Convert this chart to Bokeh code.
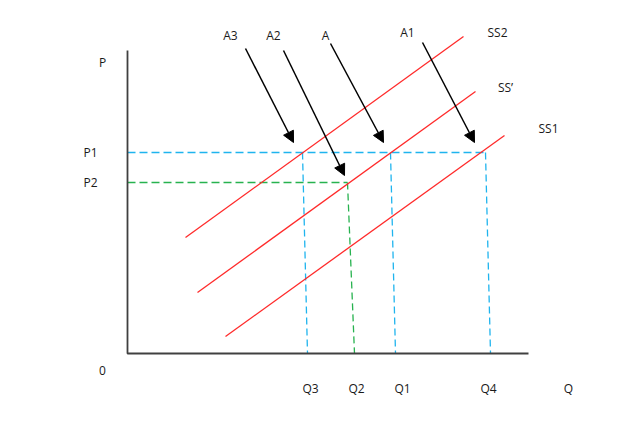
from bokeh.plotting import figure
from bokeh.models import Range1d, Arrow, NormalHead, ColumnDataSource
from bokeh.core.properties import value
from bokeh.embed import file_html
from bokeh.resources import INLINE

# Diagram coordinates: origin at the axes corner, Q to the right, P upward
axis_q_end = 401
axis_p_end = 303

# price levels
p_levels = [201, 171]          # P1, P2
p_labels = ["P1", "P2"]

# quantity levels (top, bottom of the dashed drop lines)
q3 = (175, 180)
q2 = (220, 227)
q1 = (263, 268)
q4 = (358, 363)

# supply curves: start (q, p) and end (q, p)
ss_names = ["SS2", "SS\u2019", "SS1"]
ss_q0 = [58, 70, 98]
ss_p0 = [116, 61, 17]
ss_q1 = [336, 348, 377]
ss_p1 = [317, 262, 218]
ss_label_q = [370, 378, 421]
ss_label_p = [321, 266, 225]

# arrows
arrow_names = ["A3", "A2", "A", "A1"]
arrow_q0 = [118, 156, 203, 295]
arrow_p0 = [305, 303, 310, 311]
arrow_q1 = [166, 217, 256, 347]
arrow_p1 = [211, 178, 211, 211]
arrow_label_q = [103, 146, 198, 280]
arrow_label_p = [318, 318, 318, 321]

# axis labels
q_tick_labels = ["Q3", "Q2", "Q1", "Q4", "Q"]
q_tick_pos = [183, 229, 275, 361, 441]
q_label_p = -35

FONT = value("Open Sans")
TXT = "#1a1a1a"
RED = "#ff2a2a"
BLUE = "#1fb4ee"
GREEN = "#27b24f"

p = figure(width=624, height=407, output_backend="svg", toolbar_location=None,
           x_range=Range1d(-127, 497), y_range=Range1d(-54, 353),
           min_border=0, min_border_left=0, min_border_right=0,
           min_border_top=0, min_border_bottom=0)
p.axis.visible = False
p.grid.visible = False
p.outline_line_color = None
p.background_fill_color = "white"
p.border_fill_color = "white"

# dashed guide lines
p.line([0, q4[0]], [p_levels[0], p_levels[0]], line_color=BLUE, line_width=1.3, line_dash="8 4")
p.line([0, q2[0]], [p_levels[1], p_levels[1]], line_color=GREEN, line_width=1.3, line_dash="8 4")
for q, col in [(q3, BLUE), (q1, BLUE), (q4, BLUE)]:
    p.line([q[0], q[1]], [p_levels[0], 0], line_color=col, line_width=1.3, line_dash="7 4")
p.line([q2[0], q2[1]], [p_levels[1], 0], line_color=GREEN, line_width=1.3, line_dash="7 4")

# supply curves
p.segment(x0=ss_q0, y0=ss_p0, x1=ss_q1, y1=ss_p1, line_color=RED, line_width=1.3)

# axes
p.line([0, 0, axis_q_end], [axis_p_end, 0, 0], line_color="#404040", line_width=1.8)

# arrows
src = ColumnDataSource(dict(x0=arrow_q0, y0=arrow_p0, x1=arrow_q1, y1=arrow_p1))
p.add_layout(Arrow(end=NormalHead(size=11, fill_color="black", line_color="black"),
                   x_start="x0", y_start="y0", x_end="x1", y_end="y1",
                   source=src, line_color="black", line_width=1.5))

def txt(xs, ys, labels):
    p.text(x=xs, y=ys, text=labels, text_font=FONT, text_font_size="12px",
           text_color=TXT, text_align="center", text_baseline="middle")

txt(arrow_label_q, arrow_label_p, arrow_names)
txt(ss_label_q, ss_label_p, ss_names)
txt(q_tick_pos, [q_label_p] * len(q_tick_pos), q_tick_labels)
txt([-37, -37], p_levels, p_labels)
txt([-25, -25], [291, -17], ["P", "0"])

open("out.html", "w").write(file_html(p, INLINE))
